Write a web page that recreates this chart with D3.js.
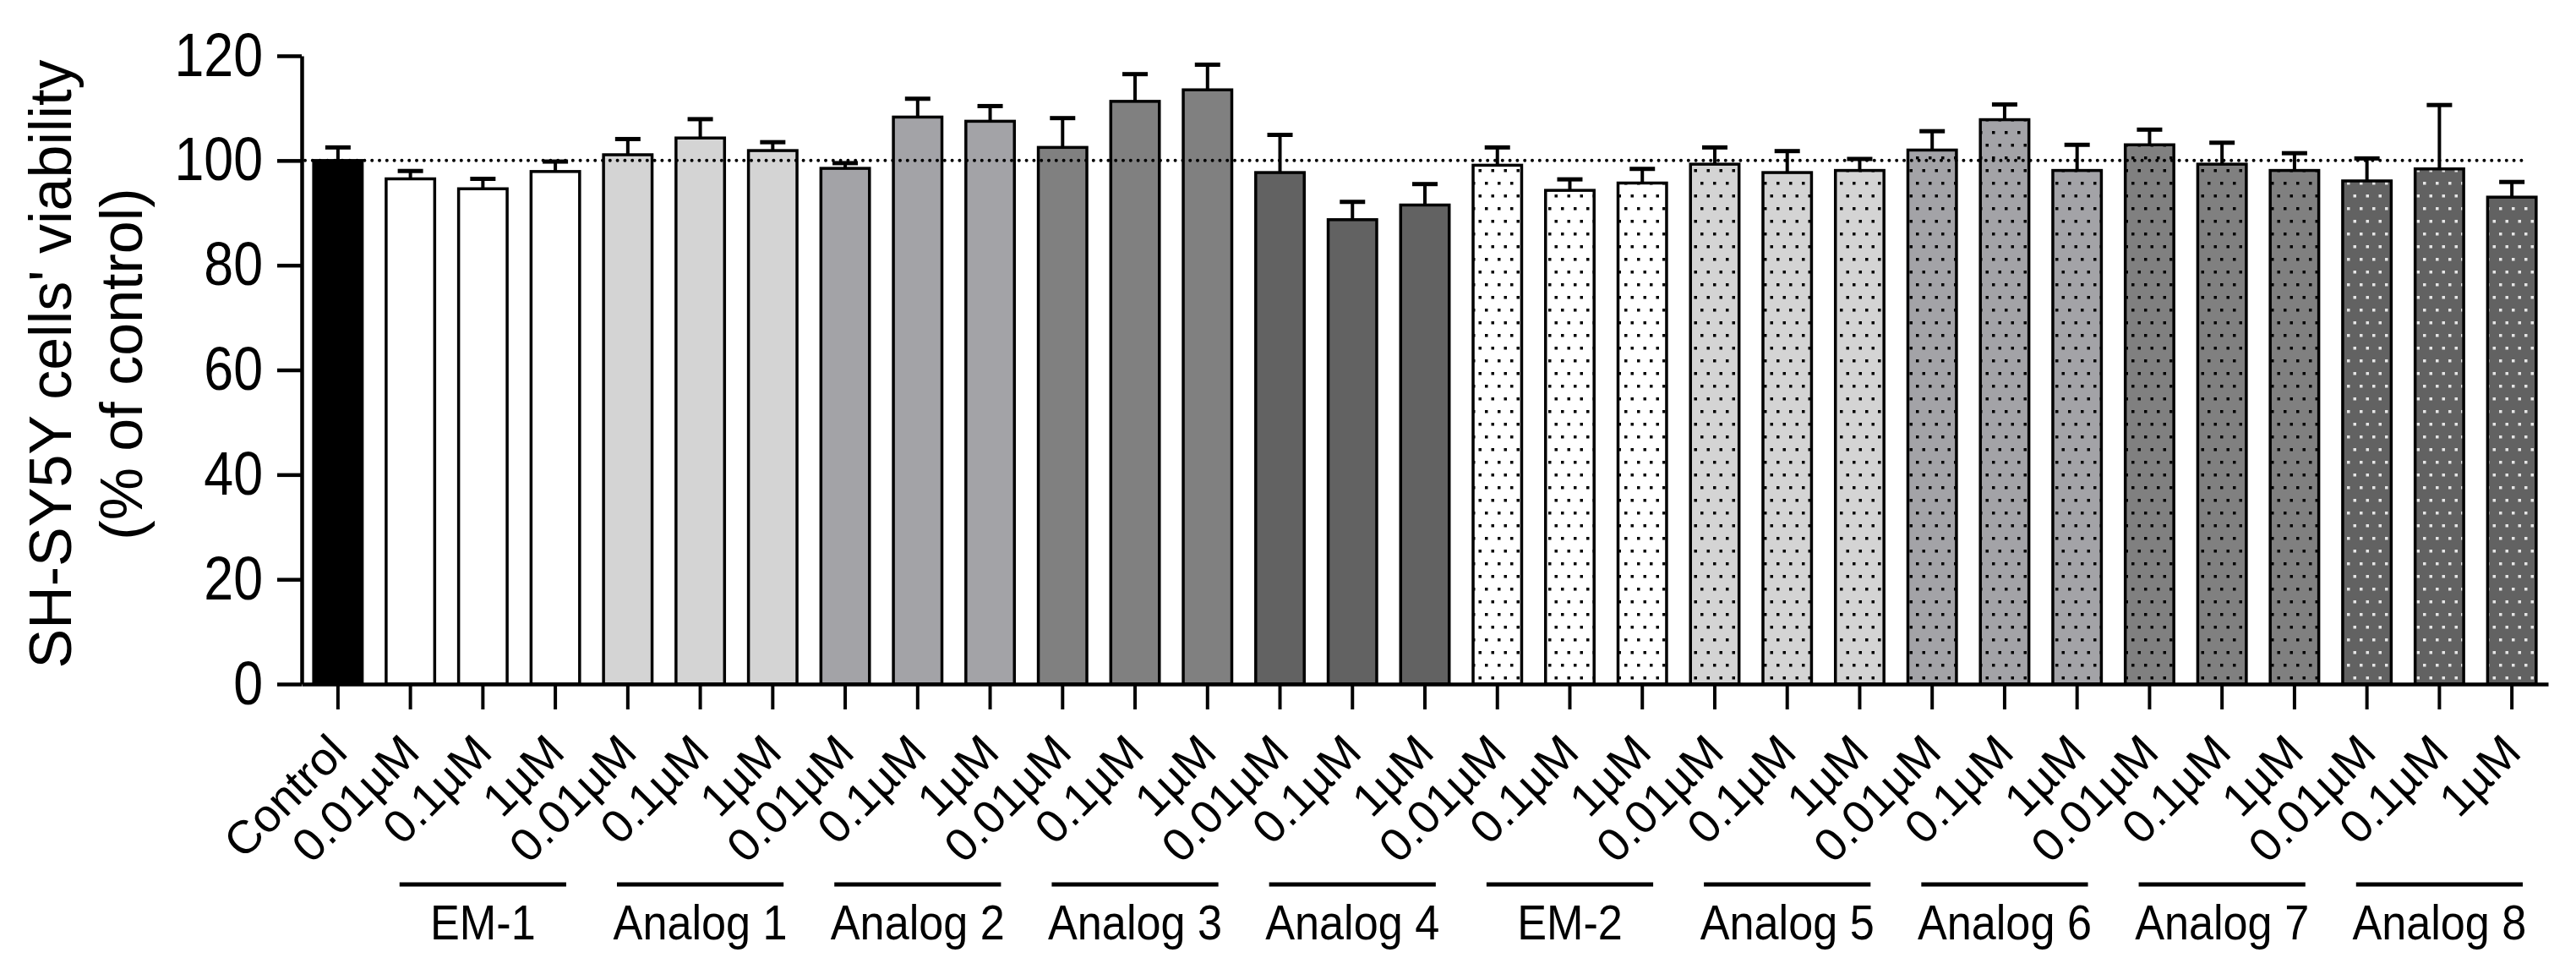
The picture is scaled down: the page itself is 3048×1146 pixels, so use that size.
<!DOCTYPE html>
<html lang="en">
<head>
    <meta charset="UTF-8">
    <title>SH-SY5Y viability</title>
    <script src="https://d3js.org/d3.v7.min.js"></script>
    <style>
        * { margin: 0; padding: 0; box-sizing: border-box; }
        body { background: #fff; width: 3048px; height: 1146px; overflow: hidden; }
        svg { display: block; font-family: "Liberation Sans", Arial, sans-serif; }
    </style>
</head>
<body>
    <svg id="chart" width="3048" height="1146"></svg>

    <script>
    // Datos
    const groups = ["EM-1", "Analog 1", "Analog 2", "Analog 3", "Analog 4",
                    "EM-2", "Analog 5", "Analog 6", "Analog 7", "Analog 8"];
    const doses = ["0.01\u00b5M", "0.1\u00b5M", "1\u00b5M"];
    const means = [100,
        96.5, 94.6, 97.9,
        101.1, 104.3, 101.9,
        98.5, 108.3, 107.5,
        102.5, 111.3, 113.5,
        97.7, 88.7, 91.5,
        99.1, 94.3, 95.7,
        99.3, 97.7, 98.1,
        102.0, 107.8, 98.1,
        103.0, 99.3, 98.1,
        96.1, 98.4, 93.0];
    const sems = [2.5,
        1.5, 1.9, 1.9,
        3.0, 3.6, 1.6,
        1.0, 3.5, 2.9,
        5.6, 5.2, 4.8,
        7.2, 3.4, 4.0,
        3.4, 2.1, 2.7,
        3.2, 4.1, 2.2,
        3.6, 2.9, 4.9,
        2.9, 4.1, 3.3,
        4.3, 12.2, 2.9];
    const groupFill = ["#ffffff", "#d4d4d4", "#a3a3a7", "#808080", "#626262",
                       "#ffffff", "#d4d4d4", "#a3a3a7", "#808080", "#626262"];
    const groupDotted = [false, false, false, false, false, true, true, true, true, true];
    const yTicks = [0, 20, 40, 60, 80, 100, 120];

    // Tabla de barras
    const bars = [{label: "Control", mean: means[0], sem: sems[0], fill: "#000000", dotted: false, group: -1}];
    groups.forEach((g, gi) => {
        doses.forEach((d, di) => {
            const k = 1 + gi * 3 + di;
            bars.push({label: d, mean: means[k], sem: sems[k], fill: groupFill[gi], dotted: groupDotted[gi], group: gi});
        });
    });

    const svg = d3.select("#chart");
    const font = "'Liberation Sans', Arial, sans-serif";

    const x = d3.scaleBand()
        .domain(d3.range(bars.length))
        .range([357, 3015])
        .padding(0);
    const step = x.step();
    const cx = i => x(i) + step / 2;
    const barW = step * 0.67;

    const y = d3.scaleLinear().domain([0, 120]).range([809, 66]);

    // Patrones de puntos
    const defs = svg.append("defs");
    groupFill.forEach((c, gi) => {
        if (!groupDotted[gi]) return;
        const p = defs.append("pattern")
            .attr("id", "dots" + gi)
            .attr("patternUnits", "userSpaceOnUse")
            .attr("width", 15)
            .attr("height", 30);
        p.append("rect").attr("width", 15).attr("height", 30).attr("fill", c);
        const dot = gi === 9 ? "#e6e6e6" : "#000";
        p.append("rect").attr("x", 2).attr("y", 5).attr("width", 3.5).attr("height", 3.5).attr("fill", dot);
        p.append("rect").attr("x", 9.5).attr("y", 20).attr("width", 3.5).attr("height", 3.5).attr("fill", dot);
    });

    // Barras de error
    const err = svg.append("g").attr("stroke", "#000");
    err.selectAll("line.v")
        .data(bars)
        .enter()
        .append("line")
        .attr("class", "v")
        .attr("stroke-width", 4)
        .attr("x1", (d, i) => cx(i))
        .attr("x2", (d, i) => cx(i))
        .attr("y1", d => y(d.mean))
        .attr("y2", d => y(d.mean + d.sem));
    err.selectAll("line.cap")
        .data(bars)
        .enter()
        .append("line")
        .attr("class", "cap")
        .attr("stroke-width", 5)
        .attr("x1", (d, i) => cx(i) - 15)
        .attr("x2", (d, i) => cx(i) + 15)
        .attr("y1", d => y(d.mean + d.sem))
        .attr("y2", d => y(d.mean + d.sem));

    // Barras
    svg.append("g")
        .selectAll("rect")
        .data(bars)
        .enter()
        .append("rect")
        .attr("x", (d, i) => cx(i) - barW / 2)
        .attr("width", barW)
        .attr("y", d => y(d.mean))
        .attr("height", d => y(0) - y(d.mean))
        .attr("fill", d => d.dotted ? "url(#dots" + d.group + ")" : d.fill)
        .attr("stroke", "#000")
        .attr("stroke-width", 3.5);

    // Línea de referencia al 100 %
    svg.append("line")
        .attr("x1", x.range()[0] + 4)
        .attr("x2", cx(bars.length - 1) + 13)
        .attr("y1", y(100))
        .attr("y2", y(100))
        .attr("stroke", "#000")
        .attr("stroke-width", 4)
        .attr("stroke-linecap", "round")
        .attr("stroke-dasharray", "0 8.8");

    // Eje Y
    const yAxis = svg.append("g")
        .attr("transform", `translate(${x.range()[0]},0)`)
        .call(d3.axisLeft(y).tickValues(yTicks).tickSize(29).tickPadding(17).tickSizeOuter(0));
    yAxis.select(".domain").attr("stroke-width", 4.5);
    yAxis.selectAll(".tick line").attr("stroke-width", 4.5);
    yAxis.selectAll(".tick text")
        .attr("font-family", font)
        .attr("font-size", 72)
        .attr("fill", "#000")
        .attr("x", -46 / 0.87)
        .attr("transform", "scale(0.87,1)");

    // Eje X
    const xAxis = svg.append("g")
        .attr("transform", `translate(0,${y(0)})`)
        .call(d3.axisBottom(x).tickSize(30).tickSizeOuter(0).tickFormat(""));
    xAxis.select(".domain").attr("stroke-width", 4.5);
    xAxis.selectAll(".tick line").attr("stroke-width", 4);

    // Etiquetas de categorías giradas
    svg.append("g")
        .selectAll("text")
        .data(bars)
        .enter()
        .append("text")
        .attr("transform", (d, i) => `translate(${cx(i)},${y(0) + 70}) rotate(-45)`)
        .attr("text-anchor", "end")
        .attr("dominant-baseline", "central")
        .attr("font-family", font)
        .attr("font-size", 55)
        .attr("fill", "#000")
        .text(d => d.label);

    // Líneas y nombres de grupo
    const grp = svg.append("g");
    groups.forEach((g, gi) => {
        const first = 1 + gi * 3, last = first + 2, mid = first + 1;
        grp.append("line")
            .attr("x1", cx(first) - step * 0.15)
            .attr("x2", cx(last) + step * 0.15)
            .attr("y1", 1046)
            .attr("y2", 1046)
            .attr("stroke", "#000")
            .attr("stroke-width", 5);
        grp.append("text")
            .attr("transform", `translate(${cx(mid)},1111) scale(0.9,1)`)
            .attr("text-anchor", "middle")
            .attr("font-family", font)
            .attr("font-size", 58)
            .attr("fill", "#000")
            .text(g);
    });

    // Título del eje Y
    const yMid = (y.range()[0] + y.range()[1]) / 2 - 7;
    svg.append("text")
        .attr("transform", `translate(84,${yMid}) rotate(-90)`)
        .attr("text-anchor", "middle")
        .attr("font-family", font)
        .attr("font-size", 70)
        .attr("fill", "#000")
        .text("SH-SY5Y cells' viability");
    svg.append("text")
        .attr("transform", `translate(168,${yMid}) rotate(-90)`)
        .attr("text-anchor", "middle")
        .attr("font-family", font)
        .attr("font-size", 70)
        .attr("fill", "#000")
        .text("(% of control)");
    </script>
</body>
</html>
